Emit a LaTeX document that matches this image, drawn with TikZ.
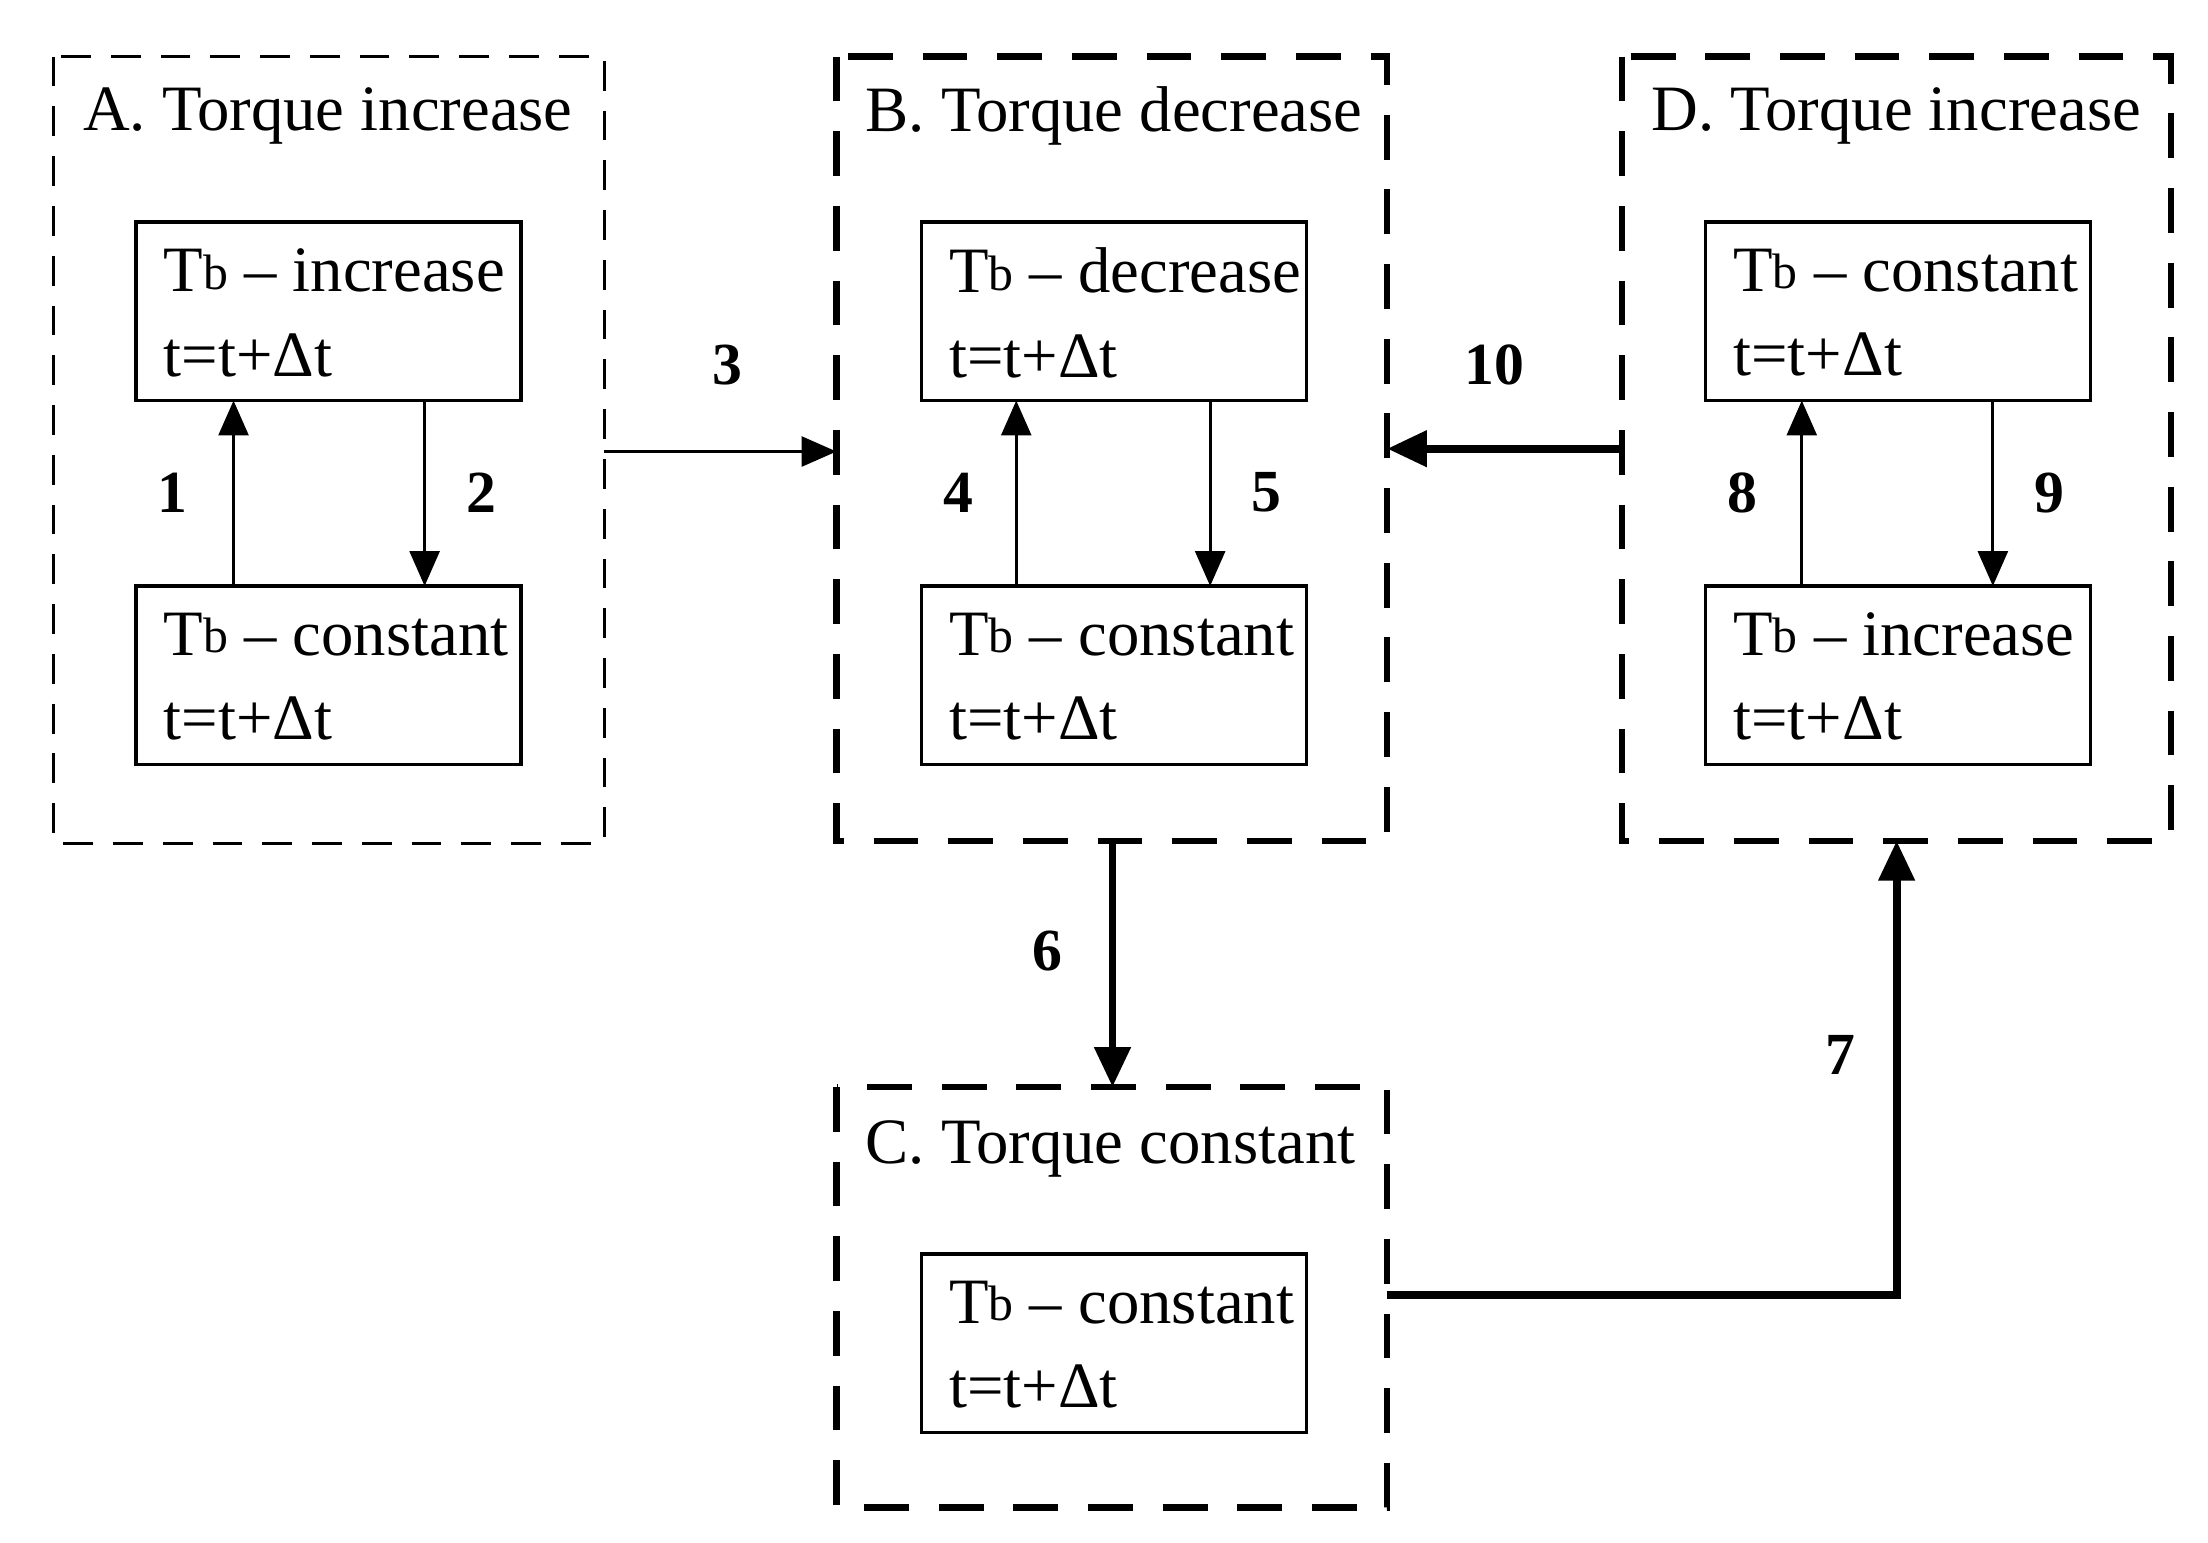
\documentclass[tikz,border=0pt]{standalone}
\usepackage{fontspec}
\setmainfont{Liberation Serif}
\usetikzlibrary{arrows.meta}
\begin{document}
\begin{tikzpicture}[x=0.01cm,y=-0.01cm,
 thinbox/.style={draw,line width=0.6pt,dash pattern=on 6pt off 4pt},
 thickbox/.style={draw,line width=1.3pt,dash pattern=on 9pt off 6pt},
 inner/.style={draw,line width=0.7pt},
 txt/.style={anchor=west,align=left,font=\fontsize{13}{17}\selectfont,inner sep=0pt},
 ttl/.style={anchor=west,font=\fontsize{13}{15}\selectfont,inner sep=0pt},
 num/.style={font=\bfseries\fontsize{12}{14}\selectfont},
 thin/.style={-{Triangle[length=7pt,width=6pt]},line width=0.6pt},
 thick/.style={-{Triangle[length=8pt,width=7pt]},line width=1.6pt}]
\useasboundingbox (0,0) rectangle (1560,1090);
% outer boxes
\draw[thinbox] (38,40) rectangle (427,596);
\draw[thickbox] (591,40) rectangle (980,594);
\draw[thickbox] (1146,40) rectangle (1534,594);
\draw[thickbox] (591,768) rectangle (980,1065);
\coordinate (Aright) at (427,319); \coordinate (Bleft) at (591,319);
\coordinate (Bright) at (980,317); \coordinate (Dleft) at (1146,317);
\coordinate (Bbot) at (786,594); \coordinate (Ctop) at (786,768);
\coordinate (Cright) at (980,915); \coordinate (Dbot) at (1340,594);
\node[ttl] (ta) at (58,82) {A. Torque increase};
\node[ttl] (tb) at (611,82) {B. Torque decrease};
\node[ttl] (td) at (1166,82) {D. Torque increase};
\node[ttl] (tc) at (611,812) {C. Torque constant};
% inner boxes
\newcommand{\tbx}{T\raisebox{0.5pt}{\fontsize{10}{10}\selectfont b}}
\foreach \n/\x/\y/\w in {a1/96/157/increase,a2/96/414/constant,b1/651/157/decrease,b2/651/414/constant,d1/1205/157/constant,d2/1205/414/increase,c1/651/886/constant}{
  \draw[inner] (\x,\y) rectangle ++(272,126);
  \node[txt] (\n) at (\x+19,\y+64) {\tbx\ – \w\\t=t+Δt};
}
% internal arrows
\draw[thin] (165,414) -- (165,283);
\draw[thin] (300,283) -- (300,414);
\draw[thin] (718,414) -- (718,283);
\draw[thin] (855,283) -- (855,414);
\draw[thin] (1273,414) -- (1273,283);
\draw[thin] (1408,283) -- (1408,414);
% outer arrows
\draw[thin] (Aright) -- (Bleft);
\draw[thick] (Dleft) -- (Bright);
\draw[thick] (Bbot) -- (Ctop);
\draw[thick] (Cright) -| (Dbot);
% numbers
\foreach \t/\x/\y in {1/122/348,2/340/348,3/514/258,4/677/348,5/895/348,6/740/672,7/1300/745,8/1231/348,9/1448/348,10/1056/258}
  \node[num] at (\x,\y) {\t};
\end{tikzpicture}
\end{document}
